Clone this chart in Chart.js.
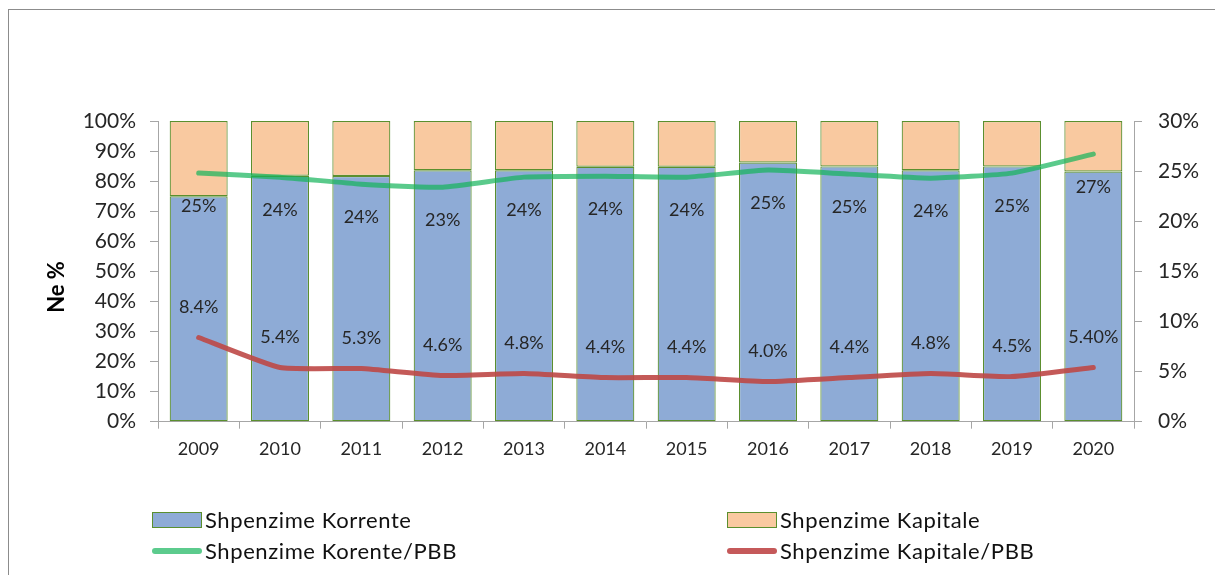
<!DOCTYPE html>
<html>
<head>
<meta charset="utf-8">
<script src="https://cdn.jsdelivr.net/npm/chart.js@4"></script>
<style>
  body { margin: 0; background: #fff; overflow: hidden; }
  #wrap { position: relative; width: 1215px; height: 575px; overflow: hidden; }
  #frame { position: absolute; left: 8px; top: 9px; width: 1300px; height: 700px; border-left: 1px solid #8c8c8c; border-top: 1px solid #8c8c8c; }
  #chartBox { position: absolute; left: 0; top: 0; width: 1215px; height: 575px; }
  .leg { position: absolute; font-family: Lato, sans-serif; font-size: 22px; letter-spacing: 0.6px; color: #111; white-space: nowrap; line-height: 24px; }
  .sw { position: absolute; }
</style>
</head>
<body>
<div id="wrap">
  <div id="frame"></div>
  <div id="chartBox"><canvas id="chart"></canvas></div>

  <div class="sw" style="left:152px;top:512px;width:48px;height:14px;background:#8eabd6;border:1px solid #5b8f2e;"></div>
  <div class="leg" style="left:205px;top:508px;">Shpenzime Korrente</div>
  <div class="sw" style="left:727px;top:512px;width:48px;height:14px;background:#f9c9a0;border:1px solid #5b8f2e;"></div>
  <div class="leg" style="left:780px;top:508px;">Shpenzime Kapitale</div>

  <div class="sw" style="left:152px;top:548px;width:50px;height:6px;border-radius:3px;background:#5ccb8d;"></div>
  <div class="leg" style="left:205px;top:539px;">Shpenzime Korente/PBB</div>
  <div class="sw" style="left:727px;top:548px;width:50px;height:6px;border-radius:3px;background:#c5595a;"></div>
  <div class="leg" style="left:780px;top:539px;">Shpenzime Kapitale/PBB</div>
</div>

<script>
// data
const years = ['2009', '2010', '2011', '2012', '2013', '2014', '2015', '2016', '2017', '2018', '2019', '2020'];
const korrente = [75.0, 81.8, 81.7, 83.6, 83.6, 84.8, 84.8, 86.2, 84.9, 83.6, 84.9, 83.2];
const kapitale = [25.0, 18.2, 18.3, 16.4, 16.4, 15.2, 15.2, 13.8, 15.1, 16.4, 15.1, 16.8];
const korrentePBB = [24.8, 24.4, 23.7, 23.4, 24.4, 24.5, 24.4, 25.1, 24.7, 24.3, 24.8, 26.7];
const kapitalePBB = [8.4, 5.4, 5.3, 4.6, 4.8, 4.4, 4.4, 4.0, 4.4, 4.8, 4.5, 5.4];
const korrenteLabels = ['25%', '24%', '24%', '23%', '24%', '24%', '24%', '25%', '25%', '24%', '25%', '27%'];
const kapitaleLabels = ['8.4%', '5.4%', '5.3%', '4.6%', '4.8%', '4.4%', '4.4%', '4.0%', '4.4%', '4.8%', '4.5%', '5.40%'];
const leftTicks = [0, 10, 20, 30, 40, 50, 60, 70, 80, 90, 100];
const rightTicks = [0, 5, 10, 15, 20, 25, 30];

const axisGray = '#a6a6a6';
const textColor = '#262626';

// point labels for the two lines + the axis title
const lineLabels = {
  id: 'lineLabels',
  afterDatasetsDraw(chart) {
    const ctx = chart.ctx;
    ctx.save();
    ctx.font = '18px Lato';
    ctx.fillStyle = textColor;
    ctx.textAlign = 'center';
    ctx.textBaseline = 'middle';
    chart.getDatasetMeta(2).data.forEach((pt, i) => {
      ctx.fillText(korrenteLabels[i], pt.x, pt.y + 33);
    });
    chart.getDatasetMeta(3).data.forEach((pt, i) => {
      ctx.fillText(kapitaleLabels[i], pt.x, pt.y - 30);
    });
    ctx.font = 'bold 22px Lato';
    ctx.fillStyle = '#000';
    ctx.translate(57, 287);
    ctx.rotate(-Math.PI / 2);
    ctx.fillText('Ne %', 0, 0);
    ctx.restore();
  }
};

new Chart(document.getElementById('chart'), {
  type: 'bar',
  data: {
    labels: years,
    datasets: [
      {
        label: 'Shpenzime Korrente',
        data: korrente,
        backgroundColor: '#8eabd6',
        borderColor: '#5b8f2e',
        borderWidth: 1.2,
        borderSkipped: false,
        yAxisID: 'y',
        order: 2
      },
      {
        label: 'Shpenzime Kapitale',
        data: kapitale,
        backgroundColor: '#f9c9a0',
        borderColor: '#5b8f2e',
        borderWidth: 1.2,
        borderSkipped: false,
        yAxisID: 'y',
        order: 2
      },
      {
        type: 'line',
        label: 'Shpenzime Korente/PBB',
        data: korrentePBB,
        borderColor: 'rgba(20,180,90,0.7)',
        borderWidth: 5,
        borderCapStyle: 'round',
        borderJoinStyle: 'round',
        pointRadius: 0,
        tension: 0.15,
        yAxisID: 'y1',
        order: 1
      },
      {
        type: 'line',
        label: 'Shpenzime Kapitale/PBB',
        data: kapitalePBB,
        borderColor: 'rgba(190,72,70,0.9)',
        borderWidth: 5,
        borderCapStyle: 'round',
        borderJoinStyle: 'round',
        pointRadius: 0,
        tension: 0.15,
        yAxisID: 'y1',
        order: 0
      }
    ]
  },
  options: {
    responsive: true,
    maintainAspectRatio: false,
    animation: false,
    layout: { padding: { top: 121, bottom: 100, left: 0, right: 0 } },
    datasets: { bar: { categoryPercentage: 1, barPercentage: 0.713 } },
    plugins: {
      legend: { display: false },
      tooltip: { enabled: false }
    },
    scales: {
      x: {
        stacked: true,
        grid: { offset: true, drawOnChartArea: false, drawTicks: true, tickLength: 7, color: axisGray },
        border: { color: axisGray },
        ticks: { font: { family: 'Lato', size: 18 }, color: textColor, padding: 10, maxRotation: 0 },
        afterFit: s => { s.height = 53.3; }
      },
      y: {
        stacked: true,
        position: 'left',
        min: 0,
        max: 100,
        afterBuildTicks: s => { s.ticks = leftTicks.map(v => ({ value: v })); },
        grid: { drawOnChartArea: false, drawTicks: true, tickLength: 8, color: axisGray },
        border: { color: axisGray },
        ticks: { font: { family: 'Lato', size: 21 }, color: textColor, padding: 14, callback: v => v + '%' },
        afterFit: s => { s.width = 158; }
      },
      y1: {
        position: 'right',
        min: 0,
        max: 30,
        afterBuildTicks: s => { s.ticks = rightTicks.map(v => ({ value: v })); },
        grid: { drawOnChartArea: false, drawTicks: true, tickLength: 8, color: axisGray },
        border: { color: axisGray },
        ticks: { font: { family: 'Lato', size: 21 }, color: textColor, padding: 16, callback: v => v + '%' },
        afterFit: s => { s.width = 81; }
      }
    }
  },
  plugins: [lineLabels]
});
</script>
</body>
</html>
